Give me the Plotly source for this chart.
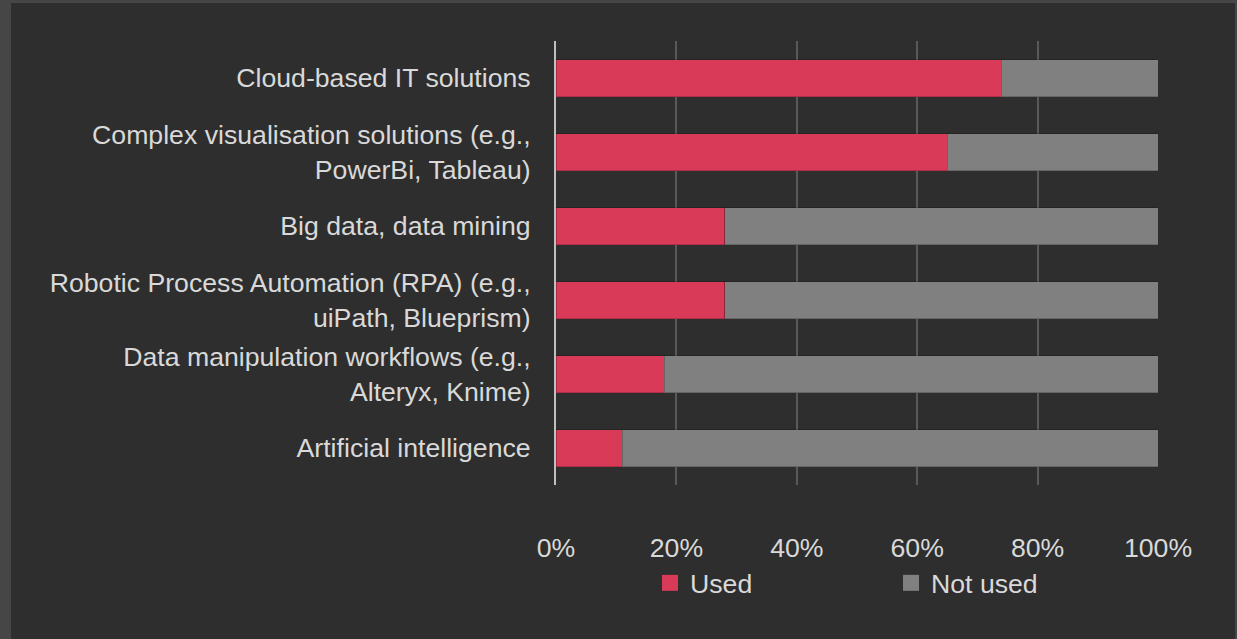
import plotly.graph_objects as go

categories = [
    "Cloud-based IT solutions",
    "Complex visualisation solutions (e.g.,<br>PowerBi, Tableau)",
    "Big data, data mining",
    "Robotic Process Automation (RPA) (e.g.,<br>uiPath, Blueprism)",
    "Data manipulation workflows (e.g.,<br>Alteryx, Knime)",
    "Artificial intelligence",
]
used = [0.74, 0.65, 0.28, 0.28, 0.18, 0.11]
not_used = [round(1 - u, 2) for u in used]
series_names = ["Used", "Not used"]
x_ticks = [0, 0.2, 0.4, 0.6, 0.8, 1.0]

RED = "#d93a58"
GREY = "#808080"
TEXT = "#d9d9d9"
BG = "#2e2e2e"
FRAME = "#464646"
FS = 26.67

W, H = 1237, 639
L, R, T, B = 556, 1158, 41, 485

fig = go.Figure()
for name, vals, col in zip(series_names, [used, not_used], [RED, GREY]):
    fig.add_trace(go.Bar(y=categories, x=vals, name=name, orientation="h",
                         marker=dict(color=col, line=dict(color="rgba(0,0,0,0.2)", width=1)),
                         width=0.5, showlegend=False, legendgroup=name))
# legend proxies (square markers like the reference legend keys)
for name, col in zip(series_names, [RED, GREY]):
    fig.add_trace(go.Scatter(x=[None], y=[categories[0]], mode="markers", name=name,
                             marker=dict(symbol="square", size=16, color=col),
                             legendgroup=name, showlegend=True, hoverinfo="skip"))

pw, ph = R - L, B - T
def px(x):
    return (x - L) / pw
def py(y):
    return (B - y) / ph

fig.add_shape(type="rect", xref="paper", yref="paper",
              x0=px(11), x1=px(1235), y0=py(639), y1=py(3),
              fillcolor=BG, line=dict(width=0), layer="below")

fig.update_layout(
    width=W, height=H,
    barmode="stack",
    paper_bgcolor=FRAME,
    plot_bgcolor="rgba(0,0,0,0)",
    margin=dict(l=L, r=W - R, t=T, b=H - B, pad=0),
    font=dict(family="Liberation Sans, Arial, sans-serif", size=FS, color=TEXT),
    bargap=0.5,
    showlegend=True,
    legend=dict(orientation="h", x=px(650), y=py(583), xanchor="left", yanchor="middle",
                font=dict(size=FS, color=TEXT), bgcolor="rgba(0,0,0,0)",
                entrywidth=196, traceorder="normal", itemsizing="trace"),
    xaxis=dict(range=[0, 1], tickvals=x_ticks, tickformat=".0%", showgrid=True,
               gridcolor="#595959", gridwidth=2, zeroline=False, showline=False,
               ticks="", ticklabelstandoff=44, fixedrange=True),
    yaxis=dict(autorange="reversed", showgrid=False, zeroline=False, showline=True,
               linecolor="#bfbfbf", linewidth=2, ticks="", ticklabelstandoff=18,
               fixedrange=True),
)

fig.write_html("out.html", config={"displayModeBar": False},
               post_script="document.body.style.margin='0';")
